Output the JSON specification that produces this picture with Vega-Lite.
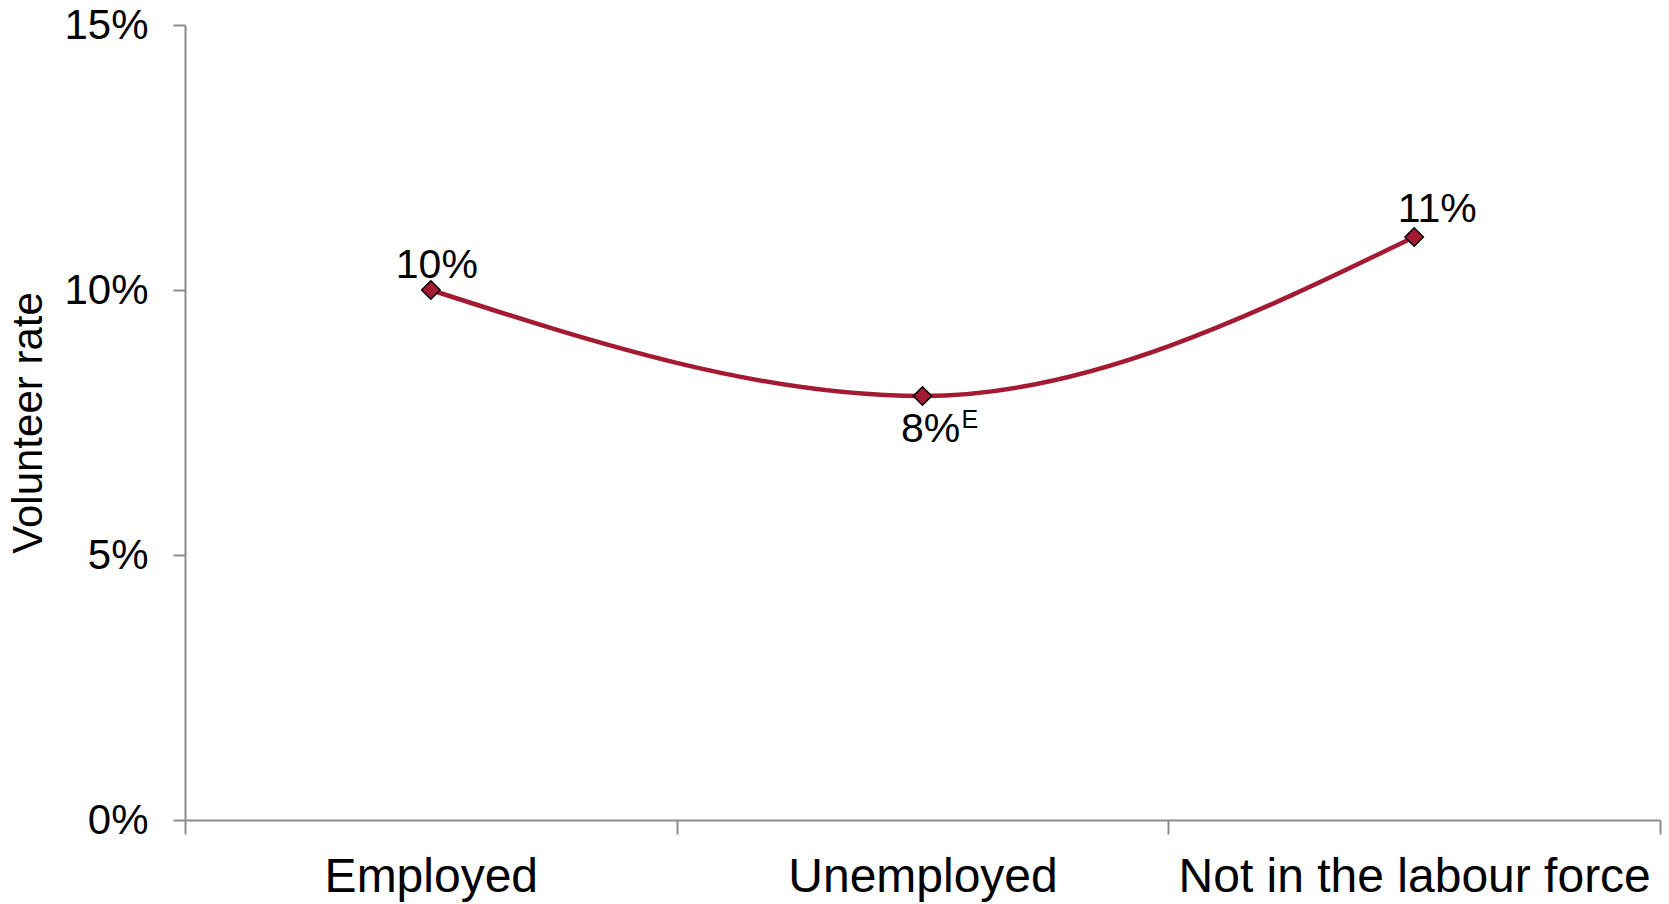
{
  "$schema": "https://vega.github.io/schema/vega-lite/v6.json",
  "autosize": {"type": "none"},
  "width": 1475,
  "height": 795,
  "padding": {"left": 185, "top": 25, "right": 9, "bottom": 84},
  "background": "white",
  "config": {
    "view": {"stroke": null},
    "font": "Liberation Sans",
    "axis": {
      "domainColor": "#8c8c8c",
      "tickColor": "#8c8c8c",
      "domainWidth": 2,
      "tickWidth": 2,
      "labelColor": "black",
      "titleColor": "black",
      "labelFont": "Liberation Sans",
      "titleFont": "Liberation Sans",
      "grid": false
    }
  },
  "data": {
    "values": [
      {"status": "Employed", "rate": 0.10, "label": "10%", "sup": ""},
      {"status": "Unemployed", "rate": 0.08, "label": "8%", "sup": "E"},
      {"status": "Not in the labour force", "rate": 0.11, "label": "11%", "sup": ""}
    ]
  },
  "encoding": {
    "x": {
      "field": "status",
      "type": "nominal",
      "sort": null,
      "scale": {"paddingInner": 0, "paddingOuter": 0},
      "axis": {
        "title": null,
        "labelAngle": 0,
        "labelFontSize": 48,
        "labelPadding": 19,
        "tickSize": 14,
        "tickBand": "extent",
        "labelLimit": 0
      }
    },
    "y": {
      "field": "rate",
      "type": "quantitative",
      "scale": {"domain": [0, 0.15], "nice": false},
      "axis": {
        "title": "Volunteer rate",
        "values": [0, 0.05, 0.1, 0.15],
        "format": ".0%",
        "labelFontSize": 42,
        "labelPadding": 25,
        "tickSize": 12,
        "titleFontSize": 42,
        "titleFontWeight": "normal",
        "titlePadding": 13
      }
    }
  },
  "layer": [
    {
      "mark": {"type": "line", "interpolate": "monotone", "color": "#A31A32", "strokeWidth": 4.5}
    },
    {
      "mark": {"type": "point", "shape": "diamond", "filled": true, "fill": "#A31A32", "stroke": "black", "strokeWidth": 1.5, "opacity": 1, "size": 340}
    },
    {
      "transform": [{"filter": "datum.status === 'Employed'"}],
      "mark": {"type": "text", "fontSize": 41, "baseline": "alphabetic", "align": "center", "dx": 6, "dy": -12, "color": "black"},
      "encoding": {"text": {"field": "label"}}
    },
    {
      "transform": [{"filter": "datum.status === 'Not in the labour force'"}],
      "mark": {"type": "text", "fontSize": 41, "baseline": "alphabetic", "align": "center", "dx": 23, "dy": -15, "color": "black"},
      "encoding": {"text": {"field": "label"}}
    },
    {
      "transform": [{"filter": "datum.status === 'Unemployed'"}],
      "mark": {"type": "text", "fontSize": 41, "baseline": "alphabetic", "align": "center", "dx": 8, "dy": 46, "color": "black"},
      "encoding": {"text": {"field": "label"}}
    },
    {
      "transform": [{"filter": "datum.sup !== ''"}],
      "mark": {"type": "text", "fontSize": 25, "baseline": "alphabetic", "align": "left", "dx": 39, "dy": 32, "color": "black"},
      "encoding": {"text": {"field": "sup"}}
    }
  ]
}
